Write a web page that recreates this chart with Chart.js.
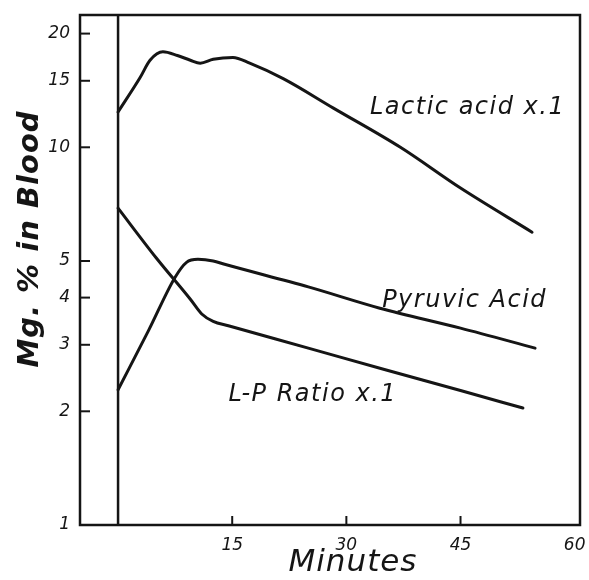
<!DOCTYPE html>
<html>
<head>
<meta charset="utf-8">
<script src="https://cdn.jsdelivr.net/npm/chart.js@4/dist/chart.umd.min.js"></script>
<style>
html,body{margin:0;padding:0;background:#fff;}
#wrap{width:589px;height:580px;position:relative;}
</style>
</head>
<body>
<div id="wrap"><canvas id="c"></canvas></div>
<script>
// ---- data ----
const lacticMin = [0, 2.9, 4.2, 5.9, 7.8, 9.5, 10.8, 12.5, 15.1, 17.3, 21.7, 28.3, 37.1, 45, 54.4];
const lacticVal = [12.4, 15.3, 17.0, 17.9, 17.5, 17.0, 16.7, 17.1, 17.3, 16.7, 15.2, 12.7, 10.0, 7.8, 5.96];

const pyruvicMin = [0, 4, 7.5, 9, 10.5, 12.5, 14, 25, 34.4, 45, 54.8];
const pyruvicVal = [2.28, 3.27, 4.53, 4.96, 5.05, 5.0, 4.9, 4.27, 3.75, 3.32, 2.94];

const lpMin = [0, 5, 9.5, 11, 12.5, 14.5, 25, 35, 45, 53.2];
const lpVal = [6.9, 5.1, 3.96, 3.62, 3.46, 3.37, 2.94, 2.58, 2.27, 2.04];

const startMin = [0, 0];
const startVal = [1, 22.4];

const xTickVals = [15, 30, 45, 60];
const yTickVals = [1, 2, 3, 4, 5, 10, 15, 20];

const seriesLabels = ['Lactic acid x.1', 'Pyruvic Acid', 'L-P Ratio x.1'];
const xTitle = 'Minutes';
const yTitle = 'Mg. % in Blood';

// ---- helpers ----
const pts = (xs, ys) => xs.map((x, i) => ({x: x, y: ys[i]}));
const INK = '#151515';
const HAND = '"DejaVu Sans", sans-serif';

const labelPos = [ // [minutes, value] anchor for the series labels (left aligned)
  [33.1, 12.7],
  [34.7, 3.92],
  [14.5, 2.21]
];

const decor = {
  id: 'decor',
  afterDatasetsDraw(chart) {
    const {ctx, chartArea: a, scales: {x, y}} = chart;
    ctx.save();
    // frame
    ctx.strokeStyle = INK;
    ctx.lineWidth = 2.5;
    ctx.strokeRect(a.left, a.top, a.right - a.left, a.bottom - a.top);
    // inward tick marks
    ctx.lineWidth = 2;
    yTickVals.forEach(v => {
      if (v === 1) return;
      const py = y.getPixelForValue(v);
      ctx.beginPath(); ctx.moveTo(a.left, py); ctx.lineTo(a.left + 10, py); ctx.stroke();
    });
    xTickVals.forEach(v => {
      if (v === 60) return;
      const px = x.getPixelForValue(v);
      ctx.beginPath(); ctx.moveTo(px, a.bottom); ctx.lineTo(px, a.bottom - 9); ctx.stroke();
    });
    // series labels
    ctx.fillStyle = INK;
    ctx.font = 'italic 24px ' + HAND;
    ctx.letterSpacing = '1.5px';
    ctx.textBaseline = 'middle';
    ctx.textAlign = 'left';
    seriesLabels.forEach((t, i) => {
      ctx.fillText(t, x.getPixelForValue(labelPos[i][0]), y.getPixelForValue(labelPos[i][1]));
    });
    // axis titles
    ctx.letterSpacing = '1px';
    ctx.font = 'italic 31px ' + HAND;
    ctx.textAlign = 'center';
    ctx.fillText(xTitle, 353, 563);
    ctx.translate(30, 239);
    ctx.rotate(-Math.PI / 2);
    ctx.font = 'italic bold 29px ' + HAND;
    ctx.fillText(yTitle, 0, 0);
    ctx.restore();
  }
};

const lineStyle = {
  borderColor: INK,
  borderWidth: 3,
  pointRadius: 0,
  fill: false,
  cubicInterpolationMode: 'monotone',
  borderCapStyle: 'round',
  borderJoinStyle: 'round'
};

new Chart(document.getElementById('c'), {
  type: 'line',
  data: {
    datasets: [
      Object.assign({label: seriesLabels[0], data: pts(lacticMin, lacticVal)}, lineStyle),
      Object.assign({label: seriesLabels[1], data: pts(pyruvicMin, pyruvicVal)}, lineStyle),
      Object.assign({label: seriesLabels[2], data: pts(lpMin, lpVal)}, lineStyle),
      Object.assign({label: 'start', data: pts(startMin, startVal)}, lineStyle, {borderWidth: 2.5})
    ]
  },
  options: {
    responsive: true,
    maintainAspectRatio: false,
    animation: false,
    layout: {padding: {top: 15, right: 9, left: 0, bottom: 0}},
    plugins: {legend: {display: false}, tooltip: {enabled: false}},
    scales: {
      x: {
        type: 'linear',
        min: -5,
        max: 60.7,
        afterBuildTicks: s => { s.ticks = xTickVals.map(v => ({value: v})); },
        afterFit: s => { s.height = 55; s.paddingLeft = 0; s.paddingRight = 0; },
        grid: {display: false, drawTicks: false},
        border: {display: false},
        ticks: {
          color: INK,
          padding: 10,
          maxRotation: 0,
          font: {family: HAND, style: 'italic', size: 17},
          callback: v => String(v)
        }
      },
      y: {
        type: 'logarithmic',
        min: 1,
        max: 22.4,
        afterBuildTicks: s => { s.ticks = yTickVals.map(v => ({value: v})); },
        afterFit: s => { s.width = 80; s.paddingTop = 0; s.paddingBottom = 0; },
        grid: {display: false, drawTicks: false},
        border: {display: false},
        ticks: {
          color: INK,
          padding: 10,
          font: {family: HAND, style: 'italic', size: 17},
          callback: v => String(v)
        }
      }
    }
  },
  plugins: [decor]
});
</script>
</body>
</html>
